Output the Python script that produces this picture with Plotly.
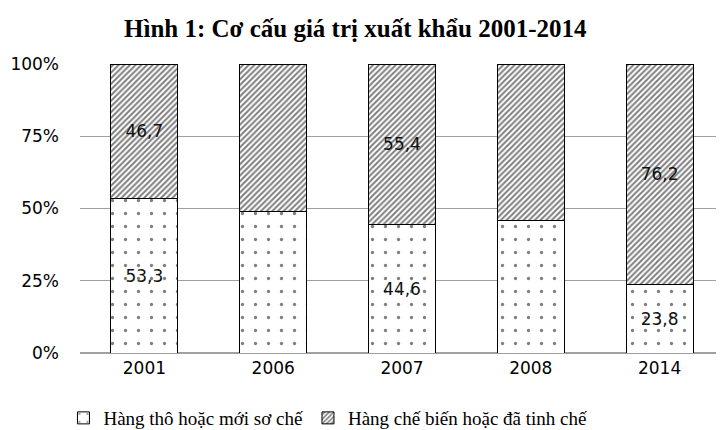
import plotly.graph_objects as go

years = ["2001", "2006", "2007", "2008", "2014"]
raw = [53.3, 48.9, 44.6, 45.8, 23.8]
processed = [46.7, 51.1, 55.4, 54.2, 76.2]
raw_labels = ["53,3", "", "44,6", "", "23,8"]
processed_labels = ["46,7", "", "55,4", "", "76,2"]
y_ticks = [0, 25, 50, 75, 100]
y_ticklabels = ["0%", "25%", "50%", "75%", "100%"]

fig = go.Figure()
fig.add_trace(go.Bar(
    x=years, y=raw, name="Hàng thô hoặc mới sơ chế",
    text=raw_labels, textposition="inside", insidetextanchor="middle",
    textfont=dict(family="DejaVu Sans", size=17, color="#111"),
    marker=dict(color="white", line=dict(color="black", width=1),
                pattern=dict(shape=".", fgcolor="black", bgcolor="white", size=13, solidity=0.05)),
    width=0.52,
))
fig.add_trace(go.Bar(
    x=years, y=processed, name="Hàng chế biến hoặc đã tinh chế",
    text=processed_labels, textposition="inside", insidetextanchor="middle",
    textfont=dict(family="DejaVu Sans", size=17, color="#111"),
    marker=dict(color="white", line=dict(color="black", width=1),
                pattern=dict(shape="/", fgcolor="black", bgcolor="white", size=4, solidity=0.5)),
    width=0.52,
))

fig.update_layout(
    barmode="stack",
    width=716, height=422,
    margin=dict(l=72, r=0, t=56, b=77, autoexpand=False),
    paper_bgcolor="white", plot_bgcolor="white",
    title=dict(text="<b>Hình 1: Cơ cấu giá trị xuất khẩu 2001-2014</b>",
               x=0.485, xanchor="center", y=0.953, yanchor="middle",
               font=dict(family="Liberation Serif", size=25, color="black")),
    legend=dict(orientation="h", x=0.385, xanchor="center", y=-0.225, yanchor="middle",
                font=dict(family="Liberation Serif", size=19, color="black"),
                traceorder="normal", itemwidth=30),
    showlegend=True,
)
fig.update_yaxes(range=[0, 100], tickvals=y_ticks, ticktext=y_ticklabels,
                 showgrid=True, gridcolor="#a0a0a0", gridwidth=1,
                 zeroline=True, zerolinecolor="#a0a0a0", automargin=False,
                 ticks="", tickfont=dict(family="DejaVu Sans", size=17, color="black"),
                 ticklabelstandoff=20)
fig.update_xaxes(showline=True, linecolor="#a0a0a0", automargin=False,
                 tickfont=dict(family="DejaVu Sans", size=17, color="black"))

fig.write_html("out.html")
